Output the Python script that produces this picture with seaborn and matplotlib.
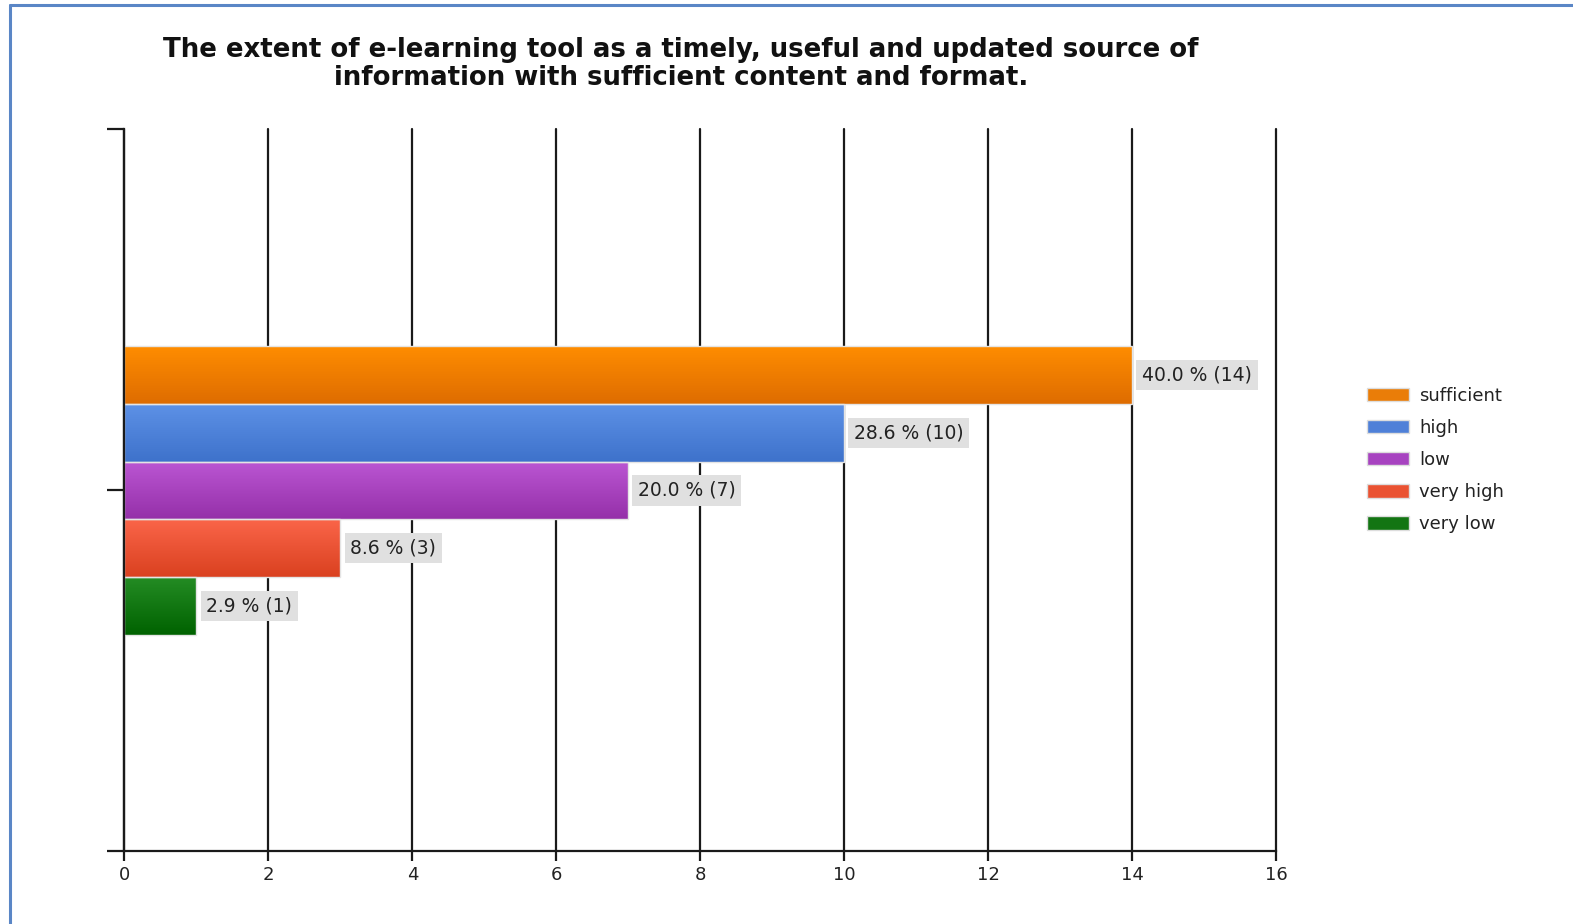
import numpy as np
import pandas as pd
import matplotlib
matplotlib.use("Agg")
import matplotlib.pyplot as plt
from matplotlib.colors import LinearSegmentedColormap, to_rgb
from matplotlib.lines import Line2D
import seaborn as sns

# Survey responses and number of respondents
responses = ["sufficient", "high", "low", "very high", "very low"]
counts = [14, 10, 7, 3, 1]
x_ticks = [0, 2, 4, 6, 8, 10, 12, 14, 16]
title = ("The extent of e-learning tool as a timely, useful and updated source of\n"
         "information with sufficient content and format.")

# Flat colours (legend) and gradient ends (bars)
base_colors = {
    "sufficient": "#ea7d08",
    "high": "#4f80d8",
    "low": "#a743c0",
    "very high": "#ea5232",
    "very low": "#137513",
}
fill_top = {
    "sufficient": "#ff8d00",
    "high": "#5d91e6",
    "low": "#bb56d3",
    "very high": "#fa6549",
    "very low": "#248c24",
}
fill_bottom = {
    "sufficient": "#de6c00",
    "high": "#3e72cb",
    "low": "#9530a9",
    "very high": "#da4120",
    "very low": "#006200",
}

sns.set_theme(style="white")
plt.rcParams["font.family"] = ["DejaVu Sans"]

df = pd.DataFrame({
    "question": [""] * len(responses),
    "response": responses,
    "count": counts,
})
total = sum(counts)

fig = plt.figure(figsize=(15.73, 9.24), dpi=100)
left, right = 0.0791, 0.8114
bottom, top = 0.0785, 0.8600
ax = fig.add_axes([left, bottom, right - left, top - bottom])

sns.barplot(
    data=df, x="count", y="question", hue="response", hue_order=responses,
    palette=base_colors, orient="h", width=0.4, saturation=1,
    edgecolor="#e4e4e4", linewidth=1.0, ax=ax,
)

# Vertical gradient fill on each bar, plus its value label
lookup = {tuple(np.round(to_rgb(c), 3)): r for r, c in base_colors.items()}
grad = np.linspace(0, 1, 128)[:, None]
bars = [p for p in ax.patches if p.get_width() > 0 and p.get_height() > 0]
for patch in bars:
    resp = lookup.get(tuple(np.round(patch.get_facecolor()[:3], 3)))
    if resp is None:
        continue
    cmap = LinearSegmentedColormap.from_list(resp, [fill_top[resp], fill_bottom[resp]])
    x0, y0 = patch.get_x(), patch.get_y()
    w, h = patch.get_width(), patch.get_height()
    im = ax.imshow(grad, cmap=cmap, aspect="auto", origin="upper",
                   extent=(x0, x0 + w, y0 + h, y0), interpolation="bilinear",
                   zorder=patch.get_zorder() - 0.05)
    im.set_clip_path(patch)
    patch.set_facecolor("none")

    cnt = counts[responses.index(resp)]
    ax.annotate(
        f"{cnt / total * 100:.1f} % ({cnt})",
        xy=(cnt, y0 + h / 2), xytext=(7, 0), textcoords="offset points",
        ha="left", va="center", fontsize=13.5, color="#222222",
        bbox=dict(boxstyle="square,pad=0.3", fc="#e0e0e0", ec="none"),
        zorder=5,
    )

ax.set_xlim(0, 16)
ax.set_ylim(0.5, -0.5)
ax.set_xticks(x_ticks)
ax.set_yticks([-0.5, 0, 0.5])
ax.set_yticklabels(["", "", ""])
ax.set_xlabel("")
ax.set_ylabel("")

ax.grid(axis="x", color="#1a1a1a", linewidth=1.6)
ax.grid(axis="y", visible=False)
for gl in ax.get_xgridlines():
    gl.set_clip_on(False)
ax.set_axisbelow(True)
for s in ["top", "right"]:
    ax.spines[s].set_visible(False)
for s in ["left", "bottom"]:
    ax.spines[s].set_color("#1a1a1a")
    ax.spines[s].set_linewidth(1.6)
ax.tick_params(axis="x", bottom=True, direction="out", length=7.5, width=1.6,
               color="#1a1a1a", labelsize=13, labelcolor="#222222", pad=3)
ax.tick_params(axis="y", left=True, direction="out", length=12, width=1.6,
               color="#1a1a1a")

sns.move_legend(
    ax, loc="center left", bbox_to_anchor=(0.8588, 0.5022),
    bbox_transform=fig.transFigure, frameon=False, title=None, fontsize=13,
    handlelength=2.33, handleheight=0.78, handletextpad=0.55, labelspacing=0.78,
)
leg = ax.get_legend()
for t in leg.get_texts():
    t.set_color("#222222")
for hnd in leg.legend_handles:
    hnd.set_edgecolor("#dddddd")
    hnd.set_linewidth(1.0)

fig.text(681 / 1573, 1 - 64 / 924, title, ha="center", va="center",
         fontsize=18.7, fontweight="bold", color="#111111", linespacing=1.13)

# Page frame
frame = "#5a86c6"
fig.add_artist(Line2D([10 / 1573, 10 / 1573], [0, 1 - 5 / 924],
                      transform=fig.transFigure, color=frame, lw=2.2))
fig.add_artist(Line2D([10 / 1573, 1], [1 - 5 / 924, 1 - 5 / 924],
                      transform=fig.transFigure, color=frame, lw=2.2))

fig.savefig("out.png", dpi=100)
